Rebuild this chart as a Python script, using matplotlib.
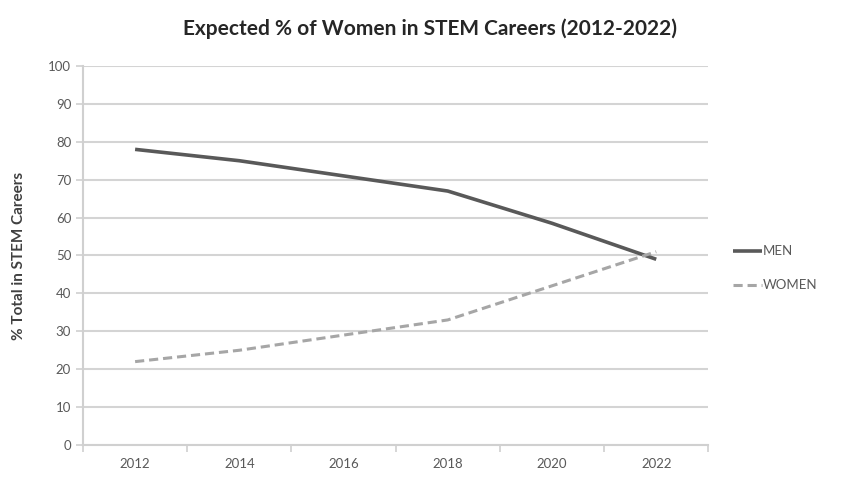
import matplotlib
matplotlib.use("Agg")
import matplotlib.pyplot as plt
from matplotlib.ticker import FixedLocator

years = [2012, 2014, 2016, 2018, 2020, 2022]
men = [78, 75, 71, 67, 58.5, 49]
women = [22, 25, 29, 33, 42, 51]
y_ticks = list(range(0, 101, 10))

plt.rcParams['font.family'] = ['Lato', 'DejaVu Sans']

fig = plt.figure(figsize=(8.52, 4.78), dpi=100)
ax = fig.add_axes([0.0974, 0.069, 0.734, 0.793])

ax.plot(years, men, color='#595959', lw=2.6, label='MEN', solid_capstyle='butt')
ax.plot(years, women, color='#a6a6a6', lw=2.2, ls=(0, (3, 1.6)), label='WOMEN')

ax.set_xlim(2011, 2023)
ax.set_ylim(0, 100)
ax.set_yticks(y_ticks)
ax.set_xticks(years)
ax.xaxis.set_minor_locator(FixedLocator([2011, 2013, 2015, 2017, 2019, 2021, 2023]))
ax.grid(axis='y', color='#d4d4d4', lw=1.5)
ax.set_axisbelow(True)
for s in ['top', 'right']:
    ax.spines[s].set_visible(False)
ax.spines['left'].set_color('#d0d0d0')
ax.spines['left'].set_linewidth(1.5)
ax.spines['bottom'].set_color('#d0d0d0')
ax.spines['bottom'].set_linewidth(1.5)
ax.tick_params(axis='y', colors='#d0d0d0', labelcolor='#595959', labelsize=9.5, length=5, width=1.2)
ax.tick_params(axis='x', which='major', length=0, labelcolor='#595959', labelsize=9.5, pad=9)
ax.tick_params(axis='x', which='minor', colors='#d0d0d0', length=5, width=1.2)

ax.set_ylabel('% Total in STEM Careers', fontsize=11, fontweight='bold', color='#404040', labelpad=16)
fig.text(0.505, 0.94, 'Expected % of Women in STEM Careers (2012-2022)', ha='center', va='center',
         fontsize=15, fontweight='bold', color='#262626')

leg = ax.legend(loc='center left', bbox_to_anchor=(1.02, 0.466), frameon=False, fontsize=9.5,
                handlelength=2.2, handletextpad=0.1, labelspacing=1.65, labelcolor='#595959')

fig.savefig('out.png', dpi=100)
